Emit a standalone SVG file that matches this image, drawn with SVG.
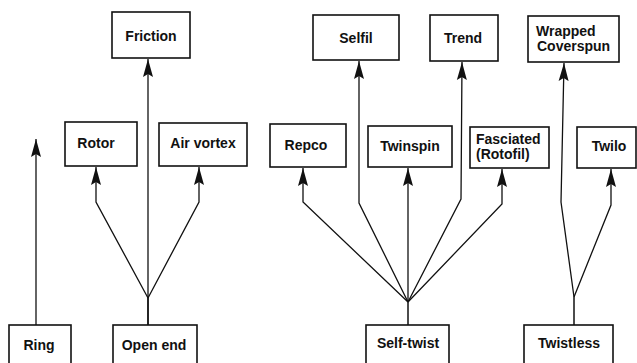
<svg xmlns="http://www.w3.org/2000/svg" width="637" height="363" viewBox="0 0 637 363">
<defs>
<style>
.box{fill:#fff;stroke:#111;stroke-width:1.6}
.t{font-family:"Liberation Sans",Arial,sans-serif;font-weight:bold;font-size:14px;fill:#111;text-anchor:middle}
.tl{text-anchor:start}
.c{fill:none;stroke:#111;stroke-width:1.3;marker-end:url(#ah)}
.s{fill:none;stroke:#111;stroke-width:1.5}
</style>
<marker id="ah" markerUnits="userSpaceOnUse" markerWidth="20" markerHeight="12" viewBox="-18 -6 20 12" refX="0" refY="0" orient="auto">
<path d="M0,0 L-18,-5 L-15,0 L-18,5 Z" fill="#111"/>
</marker>
</defs>
<rect width="637" height="363" fill="#fff"/>
<g id="connectors">
<path class="c" d="M36,325 V139"/>
<path class="s" d="M148,325 V298"/>
<path class="c" d="M148,298 L96,202 V167"/>
<path class="c" d="M148,325 V59"/>
<path class="c" d="M148,298 L199,202 V167"/>
<path class="s" d="M408,325 V302"/>
<path class="c" d="M408,302 L303,202 V168"/>
<path class="c" d="M408,302 L359,203 V61"/>
<path class="c" d="M408,302 V168"/>
<path class="c" d="M408,302 L461,199 L462,62"/>
<path class="c" d="M408,302 L502,204 V169"/>
<path class="s" d="M574,325 V297"/>
<path class="c" d="M574,297 L561,202 L564,63"/>
<path class="c" d="M574,297 L611,205 V169"/>
</g>
<g id="friction"><rect class="box" x="112" y="12" width="78" height="46"/><text class="t" x="151" y="41">Friction</text></g>
<g id="rotor"><rect class="box" x="65" y="122" width="72" height="44"/><text class="t" x="96" y="148">Rotor</text></g>
<g id="airvortex"><rect class="box" x="159" y="123" width="88" height="43"/><text class="t" x="203" y="148">Air vortex</text></g>
<g id="repco"><rect class="box" x="270" y="124" width="76" height="43"/><text class="t" x="306" y="150">Repco</text></g>
<g id="selfil"><rect class="box" x="313" y="15" width="86" height="45"/><text class="t" x="356" y="43">Selfil</text></g>
<g id="trend"><rect class="box" x="430" y="15" width="68" height="46"/><text class="t" x="463" y="43">Trend</text></g>
<g id="wrapped"><rect class="box" x="528" y="16" width="91" height="46"/><text class="t tl" x="536" y="36">Wrapped</text><text class="t tl" x="537" y="51">Coverspun</text></g>
<g id="twinspin"><rect class="box" x="368" y="126" width="84" height="41"/><text class="t" x="410" y="151">Twinspin</text></g>
<g id="fasciated"><rect class="box" x="470" y="127" width="79" height="41"/><text class="t tl" x="476" y="144">Fasciated</text><text class="t tl" x="476" y="159">(Rotofil)</text></g>
<g id="twilo"><rect class="box" x="577" y="127" width="59" height="41"/><text class="t" x="609" y="151">Twilo</text></g>
<g id="ring"><rect class="box" x="9" y="325" width="62" height="45"/><text class="t" x="39" y="350">Ring</text></g>
<g id="openend"><rect class="box" x="113" y="325" width="84" height="45"/><text class="t" x="154" y="350">Open end</text></g>
<g id="selftwist"><rect class="box" x="366" y="325" width="83" height="45"/><text class="t" x="408" y="348">Self-twist</text></g>
<g id="twistless"><rect class="box" x="524" y="325" width="89" height="45"/><text class="t" x="569" y="348">Twistless</text></g>
</svg>
